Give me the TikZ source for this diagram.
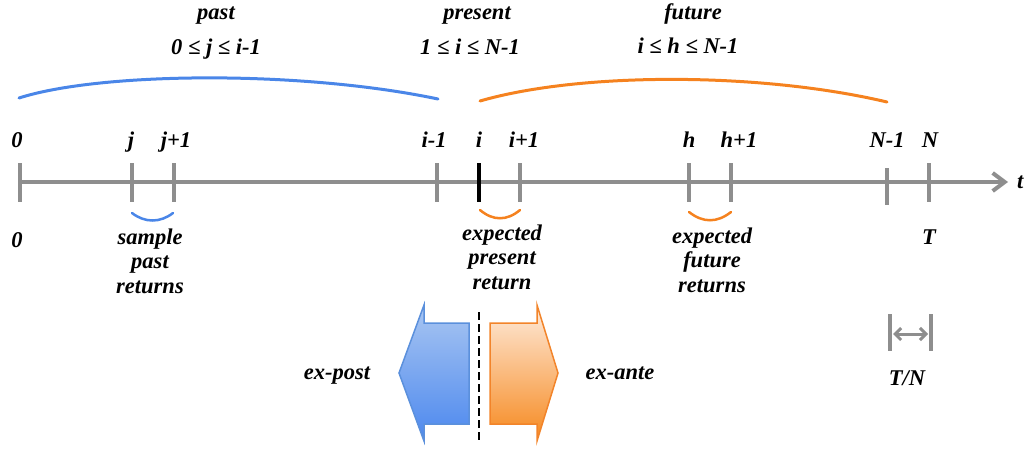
\documentclass[tikz,border=0pt]{standalone}
\usepackage{fontspec}
\setmainfont{Liberation Serif}
\usetikzlibrary{arrows.meta}
\definecolor{axisgray}{HTML}{8E8E8E}
\definecolor{pastblue}{HTML}{4A86E8}
\definecolor{futorange}{HTML}{F5821F}
\definecolor{bluelight}{HTML}{A9C6F2}
\definecolor{bluedark}{HTML}{4C88EE}
\definecolor{blueedge}{HTML}{5B90DC}
\definecolor{orangelight}{HTML}{FEEBDC}
\definecolor{orangedark}{HTML}{F6891F}
\definecolor{orangeedge}{HTML}{F2842A}
\begin{document}
\begin{tikzpicture}[x=1pt,y=-1pt,
  lbl/.style={font=\fontsize{22.5}{24.5}\selectfont\bfseries\itshape,
              inner sep=0pt, align=center, text=black},
  axisline/.style={draw=axisgray, line width=4pt},
  tickmark/.style={draw=axisgray, line width=3.5pt},
  span/.style={line width=3pt, line cap=round},
  cup/.style={line width=2.5pt, line cap=round},
]
\useasboundingbox (0,0) rectangle (1033,448);

% ---------- time axis ----------
\coordinate (axL) at (18,182);
\coordinate (axR) at (1008,182);
\draw[axisline, -{Straight Barb[length=12pt,width=18pt]}] (axL) -- (axR);
\node[lbl, anchor=base west] (tlab) at (1017,188) {t};

\foreach \n/\x in {t0/20, tj/132, tj1/174, tim/437, tip/520, th/689, th1/731, tN/929} {
  \coordinate (\n-top) at (\x,163);
  \coordinate (\n-bot) at (\x,202);
  \draw[tickmark] (\n-top) -- (\n-bot);
}
\coordinate (tNm-top) at (887,168);
\coordinate (tNm-bot) at (887,205);
\draw[tickmark] (tNm-top) -- (tNm-bot);
\coordinate (ti-top) at (479,163);
\coordinate (ti-bot) at (479,202);
\draw[black, line width=3.5pt] (ti-top) -- (ti-bot);

% tick labels above the axis
\foreach \n/\x/\t in {l0/17/0, lj/131/j, lj1/176/j+1, lim/434/i-1, li/479/i,
                      lip/524/i+1, lh/689/h, lh1/739/h+1, lNm/887/N-1, lN/930/N} {
  \node[lbl, anchor=base] (\n) at (\x,147) {\t};
}
% labels below the axis
\node[lbl, anchor=base] (b0) at (17,247) {0};
\node[lbl, anchor=base] (bT) at (929,244) {T};

% ---------- period groups ----------
\node[lbl, anchor=base] (past)  at (216,19) {past};
\node[lbl, anchor=base] (pastr) at (216,54) {0 ≤ j ≤ i-1};
\node[lbl, anchor=base] (pres)  at (477,19) {present};
\node[lbl, anchor=base] (presr) at (470,54) {1 ≤ i ≤ N-1};
\node[lbl, anchor=base] (fut)   at (693,19) {future};
\node[lbl, anchor=base] (futr)  at (688,53) {i ≤ h ≤ N-1};

\coordinate (pa1) at (19,98);
\coordinate (pa2) at (438,99);
\draw[span, pastblue] (pa1) .. controls (100,72) and (300,70) .. (pa2);
\coordinate (fu1) at (480,101);
\coordinate (fu2) at (887,102);
\draw[span, futorange] (fu1) .. controls (580,72) and (760,72) .. (fu2);

% ---------- return intervals ----------
\coordinate (cj1) at (132,213);
\coordinate (cj2) at (173,213);
\draw[cup, pastblue] (cj1) .. controls (145,223) and (160,223) .. (cj2);
\coordinate (ci1) at (480,210);
\coordinate (ci2) at (520,210);
\draw[cup, futorange] (ci1) .. controls (493,221) and (507,221) .. (ci2);
\coordinate (ch1) at (689,212);
\coordinate (ch2) at (731,212);
\draw[cup, futorange] (ch1) .. controls (703,223) and (717,223) .. (ch2);

\node[lbl] (spr) at (150,261) {sample\\past\\returns};
\node[lbl] (epr) at (502,257) {expected\\present\\return};
\node[lbl] (efr) at (712,260) {expected\\future\\returns};

% ---------- ex-post / ex-ante ----------
\coordinate (divT) at (479,312);
\coordinate (divB) at (479,443);
\draw[black, line width=2.5pt, dash pattern=on 8pt off 4pt] (divT) -- (divB);

\path[draw=blueedge, line width=1.5pt, line join=miter,
      top color=bluelight, bottom color=bluedark]
  (469,323) -- (424,323) -- (424,305) -- (399,373) -- (424,441)
  -- (424,424) -- (469,424) -- cycle;
\path[draw=orangeedge, line width=1.5pt, line join=miter,
      top color=orangelight, bottom color=orangedark]
  (490,323) -- (537,323) -- (537,305) -- (558,373) -- (537,441)
  -- (537,424) -- (490,424) -- cycle;

\node[lbl, anchor=base] (expost) at (337,379) {ex-post};
\node[lbl, anchor=base] (exante) at (620,379) {ex-ante};

% ---------- step length ----------
\coordinate (sL-top) at (890,314);
\coordinate (sL-bot) at (890,351);
\coordinate (sR-top) at (931,314);
\coordinate (sR-bot) at (931,351);
\draw[tickmark] (sL-top) -- (sL-bot);
\draw[tickmark] (sR-top) -- (sR-bot);
\coordinate (sA) at (893,334);
\coordinate (sB) at (928,334);
\draw[draw=axisgray, line width=3pt,
      {Straight Barb[length=6pt,width=12pt]}-{Straight Barb[length=6pt,width=12pt]}] (sA) -- (sB);
\node[lbl, anchor=base] (tn) at (907,385) {T/N};
\end{tikzpicture}
\end{document}
